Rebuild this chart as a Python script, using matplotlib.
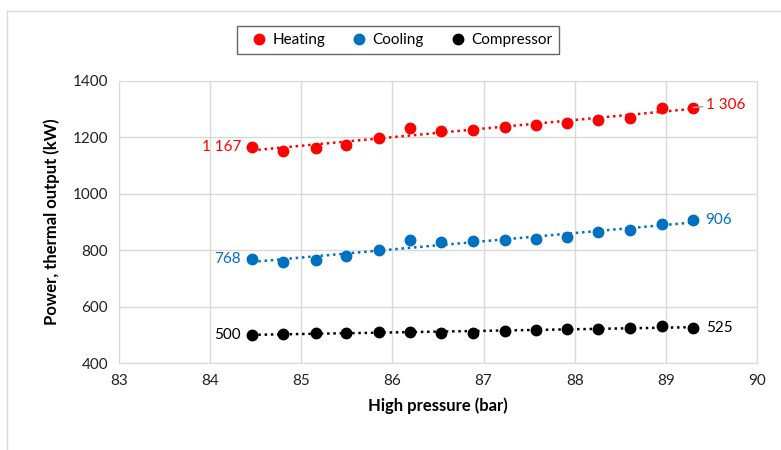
import numpy as np
import matplotlib.pyplot as plt
from matplotlib.lines import Line2D

plt.rcParams["font.family"] = ["Lato", "DejaVu Sans"]

# High pressure (bar)
pressure = [84.46, 84.80, 85.16, 85.49, 85.85, 86.19, 86.53, 86.88,
            87.23, 87.57, 87.92, 88.26, 88.61, 88.96, 89.30]

# Power / thermal output (kW)
heating = [1167, 1153, 1163, 1174, 1198, 1234, 1224, 1228,
           1238, 1245, 1252, 1263, 1268, 1303, 1306]
cooling = [768, 759, 765, 778, 800, 837, 829, 833,
           837, 839, 847, 863, 872, 894, 906]
compressor = [500, 502, 507, 507, 509, 511, 507, 508,
              514, 516, 519, 520, 524, 533, 525]

series = [("Heating", heating, "#ff0000"),
          ("Cooling", cooling, "#0070c0"),
          ("Compressor", compressor, "#000000")]

fig = plt.figure(figsize=(7.81, 4.5), dpi=100)
ax = fig.add_axes([0.1524, 0.1933, 0.8169, 0.6267])

# outer frame of the chart area
fig.add_artist(Line2D([7 / 781, 7 / 781], [0, 1 - 11 / 450], transform=fig.transFigure,
                      color="#d9d9d9", lw=1))
fig.add_artist(Line2D([7 / 781, 1], [1 - 11 / 450, 1 - 11 / 450], transform=fig.transFigure,
                      color="#d9d9d9", lw=1))

x = np.array(pressure)
for name, vals, col in series:
    y = np.array(vals)
    # linear trendline like Excel
    k, b = np.polyfit(x, y, 1)
    ax.plot([x[0], x[-1]], [k * x[0] + b, k * x[-1] + b], ls=(0, (1, 1.5)),
            color=col, lw=1.8, zorder=2)
    ax.plot(x, y, "o", color=col, ms=7.5, label=name, zorder=3)

    # first and last value labels
    first = f"{vals[0]:,}".replace(",", " ")
    last = f"{vals[-1]:,}".replace(",", " ")
    ax.annotate(first, (x[0], y[0]), xytext=(-8, 0), textcoords="offset points",
                ha="right", va="center", color=col, fontsize=11)
    if name == "Heating":
        ax.annotate(last, (x[-1], y[-1]), xytext=(9, 2), textcoords="offset points",
                    ha="left", va="center", color=col, fontsize=11,
                    arrowprops=dict(arrowstyle="-", color="#a6a6a6", lw=1,
                                    shrinkA=0, shrinkB=0))
    else:
        ax.annotate(last, (x[-1], y[-1]), xytext=(9, 0), textcoords="offset points",
                    ha="left", va="center", color=col, fontsize=11)

ax.set_xlim(83, 90)
ax.set_ylim(400, 1400)
ax.set_xticks(range(83, 91))
ax.set_yticks(range(400, 1401, 200))
ax.grid(True, color="#d9d9d9", lw=1)
ax.set_axisbelow(True)
for s in ax.spines.values():
    s.set_color("#d9d9d9")
ax.tick_params(length=0, labelsize=11, colors="#222222", pad=8)

ax.set_xlabel("High pressure (bar)", fontsize=12, fontweight="bold", labelpad=7)
ax.set_ylabel("Power, thermal output (kW)", fontsize=12, fontweight="bold", labelpad=9)

leg = fig.legend(loc="center", bbox_to_anchor=(398 / 781, 1 - 40 / 450), ncol=3,
                 frameon=True, fancybox=False, fontsize=11, handletextpad=-0.1,
                 columnspacing=1.2, markerscale=1.0, borderpad=0.45)
leg.get_frame().set_edgecolor("#404040")
leg.get_frame().set_linewidth(1)

plt.savefig("out.png", dpi=100)
